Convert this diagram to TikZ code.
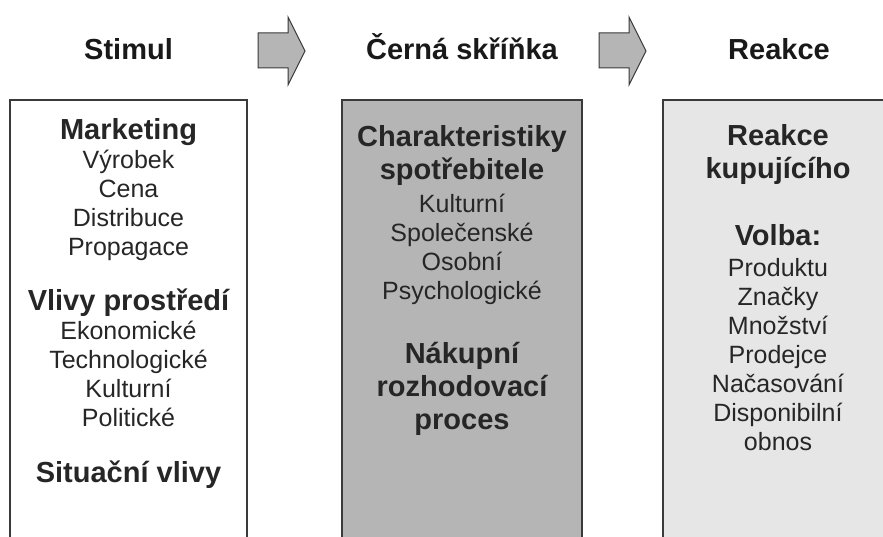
\documentclass[tikz,border=0pt]{standalone}
\usepackage{fontspec}
\setmainfont{Liberation Sans}
\usetikzlibrary{positioning}
\definecolor{boxline}{HTML}{3A3A3A}
\definecolor{darkfill}{HTML}{B5B5B5}
\definecolor{lightfill}{HTML}{E6E6E6}
\newcommand{\hd}[1]{{\fontsize{29}{29}\selectfont\bfseries #1}}
\tikzset{%
  colbox/.style = {rectangle,draw=boxline,line width=2.5pt,outer sep=0pt,
        anchor=north west,minimum width=#1,minimum height=460pt},
  coltext/.style = {align=center,inner sep=0pt,text=black!85,
        font=\fontsize{25}{29}\selectfont},
  headtext/.style = {anchor=base,inner sep=0pt,text=black!90,
        font=\fontsize{29}{29}\selectfont\bfseries},
  flowarrow/.style = {draw=boxline,fill=darkfill,line width=1pt,
        line join=miter}
}

\begin{document}
\begin{tikzpicture}[x=1pt,y=1pt]
   \clip (0,0) rectangle (883,536);
   % columns
   \node[colbox=237pt] (stim-box) at (10,436) {};
   \node[colbox=240pt,fill=darkfill] (black-box) at (342,436) {};
   \node[colbox=230pt,fill=lightfill] (react-box) at (663,436) {};
   % titles and arrows
   \node[headtext] (stim-title) at (128.5,476) {Stimul};
   \node[headtext] (black-title) at (462,476) {Černá skříňka};
   \node[headtext] (react-title) at (779,476) {Reakce};
   \draw[flowarrow] (258,468) -- (288,468) -- (288,451) -- (305,485)
     -- (288,519) -- (288,503) -- (258,503) -- cycle;
   \draw[flowarrow,xshift=341pt] (258,468) -- (288,468) -- (288,451)
     -- (305,485) -- (288,519) -- (288,503) -- (258,503) -- cycle;
   % contents
   \node[coltext] (stim-text) [below=18pt of stim-box.north]
     {\hd{Marketing}\\ Výrobek\\ Cena\\ Distribuce\\ Propagace\\[26pt]
      \hd{Vlivy prostředí}\\ Ekonomické\\ Technologické\\ Kulturní\\
      Politické\\[27pt] \hd{Situační vlivy}};
   \node[coltext] (black-text) [below=25pt of black-box.north]
     {\hd{Charakteristiky}\\[4pt] \hd{spotřebitele}\\[4pt] Kulturní\\
      Společenské\\ Osobní\\ Psychologické\\[35pt] \hd{Nákupní}\\[4pt]
      \hd{rozhodovací}\\[4pt] \hd{proces}};
   \node[coltext] (react-text) [below=24pt of react-box.north]
     {\hd{Reakce}\\[4pt] \hd{kupujícího}\\[38pt] \hd{Volba:}\\[2pt]
      Produktu\\ Značky\\ Množství\\ Prodejce\\ Načasování\\ Disponibilní\\
      obnos};
\end{tikzpicture}
\end{document}
